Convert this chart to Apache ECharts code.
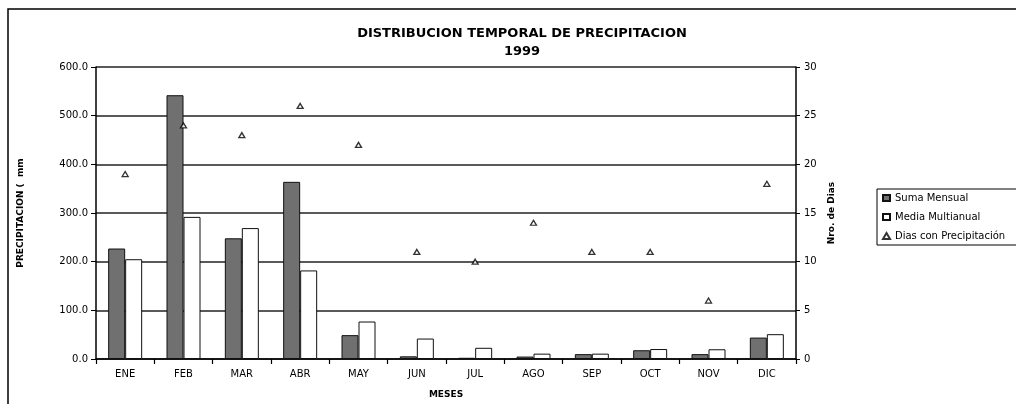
<!DOCTYPE html>
<html><head><meta charset="utf-8">
<script src="https://cdn.jsdelivr.net/npm/echarts@6/dist/echarts.min.js"></script>
<style>html,body{margin:0;padding:0;background:#fff}#c{width:1016px;height:404px}</style>
</head><body><div id="c"></div>
<script>
const months = ['ENE','FEB','MAR','ABR','MAY','JUN','JUL','AGO','SEP','OCT','NOV','DIC'];
const sumaMensual = [227, 542, 248, 364, 49, 5.5, 2.5, 5, 10, 18, 10, 44];
const mediaMultianual = [205, 292, 269, 182, 77, 42, 23, 11, 11, 20.5, 20, 51];
const diasPrecip = [19, 24, 23, 26, 22, 11, 10, 14, 11, 11, 6, 18];
const leftTicks = [0, 100, 200, 300, 400, 500, 600];
const rightTicks = [0, 5, 10, 15, 20, 25, 30];

const FONT = '"DejaVu Sans", Verdana, sans-serif';
const chart = echarts.init(document.getElementById('c'));
chart.setOption({
  animation: false,
  textStyle: {fontFamily: FONT},
  title: {
    text: 'DISTRIBUCION TEMPORAL DE PRECIPITACION\n1999',
    left: 517, top: 20, textAlign: 'center',
    textStyle: {fontSize: 13, fontWeight: 'bold', color: '#000', lineHeight: 18, fontFamily: FONT}
  },
  graphic: [{
    type: 'rect', shape: {x: 8, y: 9, width: 1030, height: 420},
    style: {fill: 'none', stroke: '#000', lineWidth: 1.5}, silent: true
  }],
  legend: {
    orient: 'vertical', left: 877, top: 189,
    borderColor: '#000', borderWidth: 1, padding: [4, 20, 4, 5],
    itemGap: 9, itemWidth: 7, itemHeight: 6,
    textStyle: {fontSize: 10, color: '#000', fontFamily: FONT, padding: [0, 0, 0, 0]},
    data: [
      {name: 'Suma Mensual', icon: 'rect'},
      {name: 'Media Multianual', icon: 'rect'},
      {name: 'Dias con Precipitación', icon: 'triangle'}
    ]
  },
  grid: {left: 96, right: 220, top: 67, bottom: 45},
  xAxis: {
    type: 'category', data: months,
    name: 'MESES', nameLocation: 'middle', nameGap: 31,
    nameTextStyle: {fontSize: 9, fontWeight: 'bold', color: '#000'},
    axisLine: {lineStyle: {color: '#000', width: 1.5}},
    axisTick: {show: true, length: 5, lineStyle: {color: '#000', width: 1.2}},
    axisLabel: {fontSize: 10, color: '#000', margin: 10}
  },
  yAxis: [{
    type: 'value', min: 0, max: 600, interval: 100,
    name: 'PRECIPITACION (  mm', nameLocation: 'middle', nameGap: 71, nameRotate: 90,
    nameTextStyle: {fontSize: 9, fontWeight: 'bold', color: '#000'},
    axisLine: {show: true, lineStyle: {color: '#000', width: 1.5}},
    axisTick: {show: true, length: 5, lineStyle: {color: '#000'}},
    axisLabel: {fontSize: 10, color: '#000', margin: 8, formatter: v => leftTicks.includes(v) ? v.toFixed(1) : ''},
    splitLine: {show: true, lineStyle: {color: '#222', width: 1.5}}
  }, {
    type: 'value', min: 0, max: 30, interval: 5, position: 'right',
    name: 'Nro. de Dias', nameLocation: 'middle', nameGap: 30, nameRotate: 90,
    nameTextStyle: {fontSize: 9, fontWeight: 'bold', color: '#000'},
    axisLine: {show: true, lineStyle: {color: '#000', width: 1.5}},
    axisTick: {show: true, length: 4, lineStyle: {color: '#000'}},
    axisLabel: {fontSize: 10, color: '#000', margin: 8, formatter: v => rightTicks.includes(v) ? String(v) : ''},
    splitLine: {show: false}
  }],
  series: [{
    name: 'Suma Mensual', type: 'bar', data: sumaMensual, barWidth: 17, barGap: '0%',
    itemStyle: {color: '#707070', borderColor: '#111', borderWidth: 1}
  }, {
    name: 'Media Multianual', type: 'bar', data: mediaMultianual, barWidth: 17,
    itemStyle: {color: '#fff', borderColor: '#111', borderWidth: 1}
  }, {
    name: 'Dias con Precipitación', type: 'scatter', yAxisIndex: 1, data: diasPrecip,
    symbol: 'triangle', symbolSize: [6, 5],
    itemStyle: {color: '#fff', borderColor: '#000', borderWidth: 1.3}
  }]
});
</script></body></html>
